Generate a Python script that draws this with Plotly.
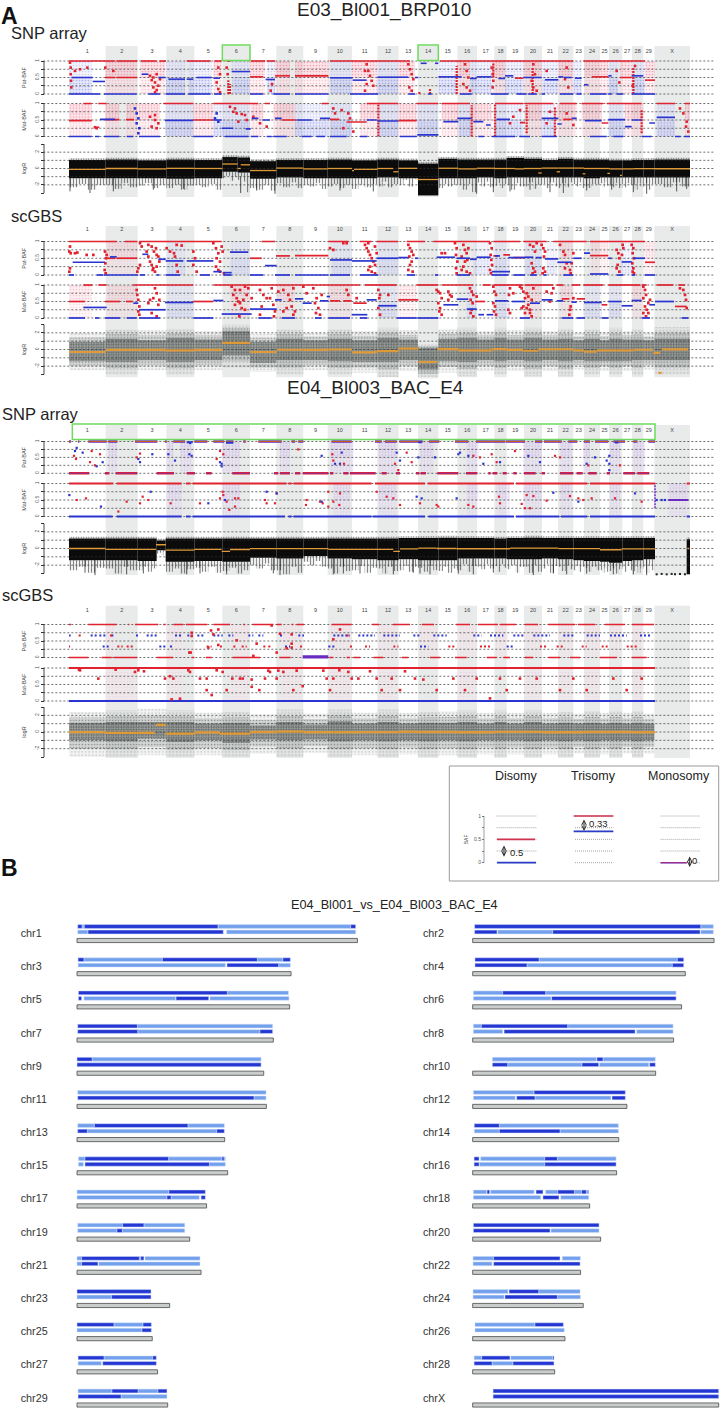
import plotly.graph_objects as go

# ---------- Panel A data: genome position axis ----------
CHROM_NAMES = [str(i) for i in range(1, 30)] + ["X"]
CHROM_EDGES = [207,317,413,499,583,667,750,829,910,983,1056,1132,1196,1254,1315,1372,1431,1483,1520,1572,1626,1674,1720,1752,1800,1827,1867,1896,1930,1963,2070]

# E03 SNP Pat-BAF
S1P_RED = [(207,345,1),(350,412,1),(423,470,1),(478,498,1),(560,632,1),(643,665,1),(680,692,1),(752,795,1),(800,825,1),(990,1230,1),(1320,1720,1),(1750,1935,1),(315,345,.5),(350,412,.5),(750,790,.52),(825,870,.55),(885,985,.55),(1545,1570,.48),(1775,1825,.52),(1860,1895,.5),(1935,1965,.42)]
S1P_BLUE = [(207,300,0),(312,410,0),(445,480,0),(497,555,0),(565,632,0),(642,665,0),(750,790,0),(820,870,0),(885,985,0),(1050,1135,0),(1225,1245,0),(1285,1295,0),(1380,1415,0),(1472,1525,0),(1550,1580,0),(1585,1610,0),(1625,1635,0),(1680,1720,0),(1730,1745,0),(1770,1820,0),(1825,1835,0),(1850,1870,0),(1895,1965,0),(1262,1280,.93),(1305,1315,.93),(215,278,.5),(278,315,.38),(425,445,.6),(475,497,.5),(505,555,.45),(560,580,.45),(590,635,.5),(640,660,.48),(695,750,.68),(797,825,.44),(990,1058,.49),(1058,1100,.42),(1132,1225,.51),(1245,1255,.5),(1315,1385,.52),(1410,1430,.47),(1430,1475,.52),(1495,1515,.47),(1515,1540,.55),(1570,1625,.5),(1635,1675,.43),(1675,1690,.52),(1692,1715,.5),(1725,1745,.48),(1752,1765,.28),(1825,1835,.55),(1895,1930,.55)]
S1P_TINT = [(207,275,"b"),(315,410,"r"),(420,495,"r"),(497,555,"b"),(565,635,"b"),(640,665,"r"),(697,750,"b"),(750,795,"r"),(800,825,"b"),(825,870,"r"),(885,985,"r"),(990,1056,"b"),(1056,1130,"r"),(1130,1195,"b"),(1195,1245,"r"),(1315,1370,"b"),(1370,1410,"r"),(1410,1475,"b"),(1475,1515,"r"),(1515,1570,"b"),(1570,1625,"r"),(1625,1675,"b"),(1675,1720,"r"),(1720,1745,"b"),(1752,1825,"r"),(1825,1855,"b"),(1860,1895,"r"),(1895,1935,"b"),(1935,1965,"r")]
S1P_DOT_X = [210,212,212,213,214,225,240,262,316,340,450,455,465,470,475,460,480,460,470,465,655,660,650,655,660,680,683,816,812,1100,1105,1110,1115,1120,1095,1100,1095,1225,1230,1235,1240,1228,1235,1395,1400,1405,1390,1400,1410,1475,1478,1480,1478,1600,1605,1595,1600,1610,1640,1700,1695,1705,1850,1858,1905,1898]
S1P_DOT_Y = [.95,.8,.6,.4,.2,.7,.75,.8,.8,.7,.55,.42,.35,.6,.25,.5,.45,.2,.12,.05,.8,.6,.35,.15,.05,.8,.6,.3,.1,.9,.7,.55,.4,.25,.7,.3,.1,.9,.75,.6,.45,.2,.1,.9,.7,.5,.3,.2,.1,.8,.6,.4,.2,.9,.6,.4,.2,.1,.7,.8,.45,.2,.7,.35,.85,.25]
S1P_COL = [(685,0,.42),(690,0,.3),(1370,0,.85),(1480,.5,.95),(1598,0,.8),(1900,0,.8),(1258,0,.08),(1290,0,.15)]

# E03 SNP Mat-BAF
S1M_RED = [(250,275,1),(295,320,1),(490,580,1),(640,775,1),(795,810,1),(965,985,1),(1100,1130,1),(1130,1195,1),(1250,1315,1),(1325,1410,1),(1485,1570,1),(1575,1660,1),(1680,1730,1),(1745,1810,1),(1820,1925,1),(1970,2025,1),(2055,2070,1),(207,275,.48),(315,358,.51),(378,402,.51),(580,640,.5),(845,888,.5),(990,1018,.52),(1040,1100,.44),(1195,1250,.48),(1690,1715,.52),(1805,1825,.41),(1560,1575,.42),(285,298,.28)]
S1M_BLUE = [(207,275,0),(285,298,0),(312,358,0),(380,400,0),(417,480,0),(580,640,0),(675,745,0),(752,775,0),(800,815,0),(820,860,0),(905,935,0),(950,975,0),(990,1040,0),(1080,1102,0),(1200,1250,0),(1252,1315,.05),(1435,1452,0),(1475,1495,0),(1495,1545,0),(1558,1590,0),(1625,1670,0),(1770,1820,0),(1840,1870,0),(1925,1955,0),(2025,2042,0),(2052,2070,0),(300,345,.52),(495,580,.49),(640,665,.5),(665,700,.25),(737,752,.23),(755,775,.55),(787,810,.5),(825,845,.55),(890,935,.5),(960,990,.55),(1100,1130,.5),(1132,1195,.47),(1330,1375,.45),(1372,1415,.55),(1420,1450,.45),(1458,1472,.35),(1490,1530,.52),(1625,1675,.55),(1672,1685,.38),(1715,1730,.55),(1755,1805,.48),(1825,1875,.51),(1875,1895,.3),(1895,1925,.5),(1948,1965,.41),(1970,2025,.58)]
S1M_TINT = [(207,275,"r"),(315,358,"r"),(378,412,"r"),(415,480,"r"),(495,580,"b"),(580,640,"r"),(640,750,"b"),(752,790,"r"),(820,885,"r"),(885,985,"b"),(990,1056,"b"),(1080,1130,"r"),(1132,1195,"b"),(1195,1250,"r"),(1250,1315,"b"),(1325,1375,"r"),(1375,1415,"b"),(1415,1475,"r"),(1485,1570,"b"),(1575,1625,"r"),(1625,1665,"b"),(1670,1730,"r"),(1745,1805,"r"),(1825,1875,"b"),(1875,1930,"r"),(1970,2025,"b"),(2055,2070,"r")]
S1M_DOT_X = [450,465,475,455,470,465,700,710,725,735,715,740,705,690,760,780,800,1025,1045,1050,1030,1060,1560,1540,1530,1650,1640,1700,1720,2040,2050,2060,2058,2065,285,290,1000,1005]
S1M_DOT_Y = [.6,.5,.4,.3,.25,.65,.75,.7,.68,.65,.45,.5,.85,.9,.6,.4,.3,.8,.7,.55,.25,.15,.8,.6,.4,.75,.4,.7,.35,.85,.7,.45,.3,.15,.28,.25,.85,.7]
S1M_DOT2_X = [405,410,415,410,418,415,650,645,655]
S1M_DOT2_Y = [.85,.7,.55,.4,.25,.1,.7,.55,.45]
S1M_COL = [(1135,0,1),(1415,0,.95),(1485,0,.98),(1580,.1,.95),(1665,0,.9),(1925,.1,.8)]

# E03 scGBS Pat-BAF
G1P_RED = [(207,350,1),(375,412,1),(418,665,1),(785,825,1),(985,1045,1),(1080,1115,1),(1130,1195,1),(1220,1275,1),(1300,1470,1),(1480,1560,1),(1570,1640,1),(1660,1760,1),(1770,1935,1),(315,345,.5),(350,412,.5),(750,785,.5),(828,870,.57),(885,985,.58),(1480,1495,.57),(1510,1530,.6),(1540,1575,.52),(1770,1825,.58),(1935,1965,.38)]
G1P_BLUE = [(207,222,0),(290,310,0),(312,415,0),(420,435,0),(470,478,0),(497,540,0),(600,630,0),(670,695,0),(750,790,0),(825,870,0),(885,985,0),(990,1050,0),(1080,1135,0),(1220,1245,0),(1305,1315,0),(1370,1410,0),(1475,1525,0),(1475,1530,.1),(1540,1575,0),(1590,1610,0),(1630,1640,0),(1690,1720,0),(1770,1825,.03),(1850,1870,0),(1895,1905,0),(1935,1965,0),(218,315,.38),(330,350,.54),(427,445,.62),(475,497,.47),(497,550,.42),(560,640,.42),(640,665,.1),(670,695,.07),(690,745,.68),(795,830,.28),(990,1056,.45),(1056,1130,.42),(1130,1195,.5),(1195,1225,.52),(1245,1255,.5),(1310,1365,.53),(1370,1410,.5),(1410,1430,.47),(1430,1472,.53),(1485,1500,.57),(1525,1575,.52),(1575,1600,.53),(1607,1625,.52),(1635,1675,.48),(1672,1715,.38),(1720,1745,.5),(1752,1770,.65),(1825,1835,.5),(1865,1895,.39),(1900,1935,.5)]
G1P_TINT = [(320,412,"r"),(500,555,"b"),(690,750,"b"),(995,1056,"b"),(1130,1195,"b"),(1420,1470,"b"),(1480,1530,"b"),(1575,1625,"b"),(1640,1670,"b"),(1680,1720,"r"),(1770,1825,"r"),(1860,1900,"b"),(1930,1965,"r")]
G1P_DOT_X = [210,208,212,225,232,260,280,210,208,315,318,316,314,317,320,420,425,415,420,412,440,445,450,455,460,465,470,462,475,468,455,445,478,470,458,500,510,522,530,545,525,530,533,580,585,580,590,640,648,655,650,660,648,655,665,668,660,672,990,1000,1030,1040,1095,1100,1105,1110,1115,1120,1125,1110,1105,1115,1125,1130,1105,1125,1225,1230,1235,1228,1235,1230,1225,1238,1240,1325,1335,1365,1370,1368,1372,1368,1370,1390,1395,1400,1405,1385,1395,1390,1385,1400,1410,1402,1470,1475,1472,1474,1476,1470,1473,1590,1600,1605,1595,1600,1605,1598,1610,1625,1630,1635,1632,1630,1635,1628,1680,1690,1695,1700,1695,1710,1715,1720,1712,1850,1855,1858,1853,1850,1858,1868,1870,1866,1895,1900,1898,1902,1897,1900,1898,1902]
G1P_DOT_Y = [.85,.7,.65,.65,.67,.6,.6,.2,.1,.7,.5,.35,.15,.05,.6,.95,.85,.2,.3,.1,.7,.55,.4,.3,.2,.1,.6,.7,.55,.8,.85,.9,.4,.25,.15,.8,.7,.65,.9,.88,.55,.3,.1,.7,.5,.3,.1,.95,.8,.65,.5,.4,.25,.15,.85,.7,.1,.05,.8,.75,.95,.95,.9,.8,.7,.6,.5,.4,.3,.25,.15,.1,.05,.65,.95,.85,.9,.8,.7,.55,.4,.3,.15,.1,.6,.65,.65,.95,.8,.6,.4,.2,.05,.9,.75,.65,.8,.55,.4,.25,.15,.1,.05,.45,.95,.8,.6,.45,.3,.15,.05,.9,.85,.7,.35,.2,.1,.05,.95,.9,.8,.7,.55,.2,.1,.05,.9,.7,.6,.35,.2,.15,.35,.65,.05,.75,.65,.5,.3,.2,.1,.9,.8,.6,.9,.8,.65,.5,.35,.2,.1,.05]

# E03 scGBS Mat-BAF
G1M_RED = [(250,277,1),(295,320,1),(398,580,1),(640,1080,1),(1095,1190,1),(1250,1315,1),(1325,1420,1),(1448,1472,1),(1480,1570,1),(1575,1660,1),(1670,1690,1),(1715,1740,1),(1750,1810,1),(1825,1920,1),(1925,1940,1),(1970,2020,1),(2035,2055,1),(207,255,.5),(315,360,.5),(378,398,.5),(580,640,.5),(990,1020,.52),(1030,1055,.52),(1060,1100,.45),(1195,1255,.55),(1425,1455,.5),(1685,1708,.58),(1730,1755,.58),(1805,1822,.4),(2025,2060,.35)]
G1M_BLUE = [(207,255,0),(285,298,0),(315,360,0),(380,410,0),(417,480,0),(580,640,0),(775,815,0),(845,885,0),(945,965,0),(985,1050,0),(1080,1102,0),(1190,1250,0),(1252,1315,0),(1435,1452,.1),(1460,1480,.1),(1560,1590,0),(1685,1720,0),(1730,1755,0),(1805,1825,0),(1925,1950,0),(2045,2065,0),(250,320,.32),(400,415,.45),(417,497,.25),(495,580,.47),(640,670,.53),(665,755,.12),(750,830,.27),(825,845,.55),(885,910,.58),(908,935,.45),(960,985,.52),(980,990,.65),(1055,1102,.1),(1100,1130,.55),(1135,1190,.37),(1330,1375,.4),(1370,1405,.57),(1400,1430,.27),(1485,1525,.52),(1535,1575,.5),(1590,1620,.45),(1625,1658,.55),(1670,1690,.52),(1715,1730,.48),(1752,1805,.47),(1825,1865,.5),(1865,1898,.37),(1895,1925,.53),(1948,1965,.4),(1965,2022,.5)]
G1M_TINT = [(207,275,"r"),(320,412,"r"),(500,580,"b"),(690,750,"r"),(830,885,"r"),(985,1056,"r"),(1135,1190,"b"),(1195,1250,"r"),(1400,1430,"b"),(1485,1530,"b"),(1575,1625,"r"),(1680,1720,"r"),(1750,1805,"b"),(1825,1865,"b"),(1895,1930,"r")]
G1M_DOT_X = [410,412,415,418,415,418,450,460,470,465,445,475,455,470,478,695,705,720,735,745,700,710,715,720,730,705,725,740,755,735,718,780,790,800,785,780,810,815,820,825,822,835,850,865,880,870,860,850,875,885,880,910,920,940,950,945,955,948,960,965,1040,1045,1070,1135,1140,1138,1135,1140,1165,1310,1315,1320,1325,1315,1320,1318,1325,1345,1350,1345,1355,1410,1415,1420,1412,1418,1415,1412,1420,1430,1480,1483,1488,1480,1485,1482,1488,1530,1527,1525,1530,1540,1560,1565,1570,1580,1585,1575,1570,1580,1590,1565,1585,1575,1590,1595,1600,1595,1640,1660,1655,1650,1712,1710,1708,1720,1930,1935,1938,1930,1945,1935,1940,1930,1938,1945,1950,2040,2050,2055,2058,2060]
G1M_DOT_Y = [.85,.7,.55,.35,.2,.1,.55,.6,.75,.9,.45,.4,.15,.05,.55,.95,.85,.85,.95,.9,.7,.6,.5,.45,.55,.4,.3,.7,.6,.25,.05,.85,.7,.6,.35,.1,.6,.9,.4,.2,.05,.8,.85,.7,.9,.55,.3,.2,.35,.2,.1,.95,.75,.9,.6,.45,.3,.15,.1,.7,.85,.7,.6,.85,.7,.6,.3,.1,.7,.85,.8,.75,.6,.45,.3,.2,.1,.8,.7,.55,.65,.9,.8,.7,.55,.45,.25,.15,.05,.65,.95,.8,.7,.45,.35,.2,.1,.9,.7,.25,.15,.75,.95,.9,.8,.75,.65,.6,.35,.3,.25,.3,.4,.15,.15,.05,.9,.55,.8,.9,.75,.5,.35,.25,.1,.6,.95,.85,.7,.6,.45,.35,.25,.15,.05,.15,.55,.9,.85,.7,.55,.3]

# E04 SNP Pat-BAF
S2P_TOP = [(207,213,1),(234,238,1),(265,320,1),(325,352,1),(405,472,1),(495,500,1),(520,555,1),(583,622,1),(640,672,1),(678,700,1),(730,737,1),(775,845,1),(875,885,1),(895,910,1),(995,1055,1),(1125,1145,1),(1155,1190,1),(1198,1268,1),(1287,1318,1),(1365,1405,1),(1428,1515,1),(1517,1575,1),(1605,1627,1),(1632,1685,1),(1705,1732,1),(1752,1770,1),(1785,1825,1),(1840,1875,1),(1900,1912,1),(1945,1965,1)]
S2P_BOT = [(207,268,0),(315,328,0),(347,412,0),(470,522,0),(560,585,0),(618,635,0),(697,750,0),(822,835,0),(840,870,0),(885,900,0),(908,985,0),(990,1000,0),(1030,1045,0),(1050,1127,0),(1145,1160,0),(1188,1200,0),(1248,1258,0),(1262,1278,0),(1312,1375,0),(1398,1432,0),(1465,1472,0),(1478,1492,0),(1508,1520,0),(1540,1550,0),(1572,1607,0),(1625,1635,0),(1680,1720,0),(1730,1748,0),(1765,1790,0),(1820,1830,0),(1870,1905,0),(1912,1948,0)]
S2P_BLUE_TOP = [(560,578,.98),(678,700,.96),(1255,1265,.98),(1845,1855,.97)]
S2P_TINT = [(325,352,"p"),(500,520,"p"),(540,575,"p"),(665,720,"p"),(840,870,"p"),(990,1060,"p"),(1135,1190,"p"),(1260,1300,"p"),(1400,1435,"p"),(1570,1625,"p"),(1680,1715,"p"),(1750,1770,"p"),(1830,1860,"p"),(1900,1935,"p")]
S2P_DOTB_X = [230,225,248,308,290,415,420,457,505,525,568,575,570,660,665,665,965,1025,1005,1020,1190,1200,1255,1305,1375,1380,1405,1450,1500,1585,1620,1760,1785,1820,1828,1828,1828]
S2P_DOTB_Y = [.8,.7,.65,.35,.22,.45,.35,.6,.6,.4,.6,.55,.95,.35,.3,.22,.55,.65,.3,.3,.65,.4,.5,.5,.6,.65,.55,.3,.35,.55,.35,.3,.5,.4,.55,.3,.1]
S2P_DOTR_X = [222,228,270,285,275,300,410,420,660,650,670,895,997,1000,1032,1185,1195,1220,1235,1420,1440,1475,1490,1545,1665,1680,1765,1860]
S2P_DOTR_Y = [.55,.45,.35,.25,.7,.6,.5,.62,.7,.45,.6,.75,.6,.4,.3,.3,.1,.65,.35,.55,.5,.6,.35,.7,.55,.5,.25,.25]

# E04 SNP Mat-BAF
S2M_RED = [(207,340,1),(350,545,1),(558,572,1),(578,860,1),(865,875,1),(880,1115,1),(1125,1275,1),(1283,1542,1),(1548,1762,1),(1770,1965,1),(2060,2070,1)]
S2M_BLUE = [(207,338,0),(350,545,0),(558,572,0),(578,855,0),(865,875,0),(880,1115,0),(1118,1275,0),(1285,1542,0),(1548,1678,0),(1683,1762,0),(1770,1965,0),(2060,2070,0)]
S2M_TINT = [(500,545,"p"),(665,720,"p"),(1000,1050,"p"),(1135,1190,"p"),(1400,1435,"p"),(1490,1530,"p"),(1570,1625,"p"),(1680,1715,"p"),(1830,1860,"p")]
S2M_DOTR_X = [230,258,355,380,428,445,420,512,600,660,668,670,680,705,715,688,705,795,800,830,825,920,918,960,968,985,985,1000,1020,1018,1130,1160,1180,1200,1260,1310,1315,1405,1420,1497,1500,1565,1575,1590,1580,1600,1640,1710,1735,1750,1775,1845,1925]
S2M_DOTR_Y = [.5,.55,.15,.45,.6,.5,.4,.4,.4,.55,.75,.65,.45,.55,.55,.2,.3,.5,.4,.7,.4,.5,.35,.45,.4,.75,.3,.45,.7,.35,.75,.6,.55,.35,.4,.35,.3,.35,.3,.6,.4,.38,.25,.25,.65,.62,.48,.62,.55,.5,.55,.55,.45]
S2M_DOTB_X = [208,303,452,625,675,800,965,830,1250,1265,1370,1660,1735,1905,1970,1985,1995]
S2M_DOTB_Y = [.65,.3,.75,.4,.5,.75,.45,.7,.6,.55,.55,.72,.45,.7,.5,.5,.5]
S2M_X_PURPLE = [(2005,2065,.5)]
S2M_X_TINT = [(2005,2065,"p")]
S2M_X_COL = [(1965,.25,1)]

# E04 scGBS Pat-BAF
G2P_RED = [(207,213,1),(265,350,1),(385,388,1),(405,475,1),(490,497,1),(520,550,1),(558,622,1),(640,690,1),(730,735,1),(757,820,1),(830,845,1),(875,880,1),(890,912,1),(995,1055,1),(1116,1137,1),(1179,1230,1),(1266,1302,1),(1368,1410,1),(1434,1494,1),(1500,1548,1),(1575,1614,1),(1644,1725,1),(1734,1785,1),(1815,1875,1),(1896,1962,1),(207,265,0),(305,335,0),(340,412,0),(470,520,0),(575,583,0),(618,635,0),(698,780,0),(838,872,0),(988,1000,0),(1040,1050,0),(1060,1080,0),(1120,1150,0),(1205,1225,0),(1290,1320,0),(1365,1400,0),(1460,1490,0),(1510,1530,0),(1575,1600,0),(1645,1680,0),(1710,1740,0),(1800,1850,0),(1895,1940,0)]
G2P_PURPLE = [(908,985,.02)]
G2P_B_DASH = [(207,212,.67),(272,290,.67),(298,318,.67),(334,340,.67),(408,420,.67),(440,473,.67),(525,548,.67),(562,578,.67),(592,610,.67),(640,668,.67),(685,700,.67),(745,760,.67),(775,790,.67),(840,850,.67),(895,912,.67),(1000,1050,.67),(1075,1125,.67),(1150,1200,.67),(1240,1260,.67),(1300,1340,.67),(1420,1445,.67),(1470,1510,.67),(1540,1570,.67),(1600,1650,.67),(1690,1720,.67),(1760,1800,.67),(1830,1880,.67),(1920,1950,.67),(308,330,.33),(478,497,.33),(510,520,.33),(985,1005,.33),(855,870,.33),(1260,1285,.33),(1520,1540,.33)]
G2P_R_DASH = [(207,210,.33),(352,368,.33),(380,400,.33),(620,635,.33),(660,668,.33),(700,712,.33),(725,740,.33),(790,796,.33),(805,815,.33),(900,908,.33),(1050,1060,.33),(1095,1110,.33),(1180,1195,.33),(1345,1365,.33),(1440,1470,.33),(1620,1640,.33),(1670,1690,.33),(1745,1760,.33),(1805,1825,.33),(1880,1910,.33),(236,242,.67),(330,340,.67),(1040,1050,.67)]
G2P_TINT = [(315,345,"n"),(500,550,"n"),(690,745,"n"),(845,905,"n"),(990,1055,"n"),(1135,1190,"n"),(1260,1310,"n"),(1372,1430,"n"),(1485,1525,"n"),(1575,1625,"n"),(1675,1720,"n"),(1752,1800,"n"),(1830,1865,"n"),(1896,1930,"n")]
G2P_DOT_X = [633,655,640,575,575,625,655,815,840,875,875,875,860,830,1000,1020,568,572,760,770,710]
G2P_DOT_Y = [.82,.85,.7,.75,.65,.3,.38,.97,.72,.7,.42,.3,.28,.15,.55,.85,.15,.15,.05,.42,.52]

# E04 scGBS Mat-BAF
G2M_RED = [(207,1965,1)]
G2M_BLUE = [(207,1965,0)]
G2M_TINT = [(315,412,"n"),(500,550,"n"),(690,745,"n"),(845,905,"n"),(990,1055,"n"),(1135,1190,"n"),(1372,1430,"n"),(1575,1625,"n"),(1675,1720,"n"),(1752,1800,"n"),(1896,1930,"n")]
G2M_DOT_X = [237,240,295,347,405,415,432,495,510,520,515,540,565,570,600,620,620,635,650,668,697,680,720,728,755,755,778,795,805,810,830,835,850,880,890,908,970,980,990,1000,1018,1045,1055,1075,1110,1130,1145,1175,1200,1215,1245,1270,1310,1360,1395,1430,1470,1500,1520,1560,1610,1680,1720,1760,1840,1880,1925]
G2M_DOT_Y = [.95,.93,.68,.95,.88,.93,.9,.68,.75,.68,.05,.07,.93,.88,.68,.68,.33,.18,.93,.88,.68,.33,.68,.68,.65,.43,.33,.68,.92,.88,.68,.92,.88,.33,.92,.45,.92,.68,.33,.68,.93,.88,.68,.68,.9,.68,.33,.68,.33,.9,.68,.65,.33,.68,.33,.68,.08,.68,.33,.68,.68,.33,.68,.33,.68,.33,.68]

# logR: (start, end, top, core bottom, four lower tips)
S1L_BAND = [(207,317,1.05,-1.2,-2.3,-1.9,-2.6,-2.0),(317,413,1.1,-1.2,-2.0,-2.5,-1.8,-2.3),(413,499,1.0,-1.2,-2.1,-1.8,-2.4,-2.0),(499,583,1.1,-1.25,-2.4,-2.0,-2.6,-2.1),(583,667,1.05,-1.2,-2.0,-2.3,-1.9,-2.6),(667,713,1.4,-.4,-1.2,-.9,-1.5,-1.0),(713,750,1.35,-.5,-1.4,-1.0,-1.6,-2.9),(750,829,.9,-1.25,-2.4,-2.6,-2.0,-2.7),(829,910,1.05,-1.1,-1.8,-2.3,-1.7,-2.4),(910,983,1.05,-1.2,-2.0,-2.2,-1.8,-2.5),(983,1056,1.1,-1.2,-2.2,-1.9,-2.4,-2.0),(1056,1132,1.0,-1.2,-2.5,-2.0,-2.3,-1.9),(1132,1196,1.1,-1.1,-2.2,-1.6,-2.3,-1.9),(1196,1254,1.0,-1.2,-2.0,-1.4,-2.2,-1.3),(1254,1315,.6,-3.3,-3.3,-3.3,-3.3,-3.3),(1315,1372,1.2,-1.2,-2.4,-1.9,-2.2,-2.0),(1372,1431,1.1,-1.2,-2.0,-2.6,-1.9,-2.9),(1431,1483,1.1,-1.1,-1.7,-2.2,-1.6,-2.3),(1483,1520,1.1,-1.2,-2.1,-1.8,-2.4,-1.9),(1520,1572,1.3,-1.1,-2.0,-2.6,-1.8,-2.2),(1572,1626,1.2,-1.1,-2.2,-1.7,-2.5,-2.0),(1626,1674,1.05,-1.1,-1.9,-2.4,-1.7,-2.2),(1674,1720,1.2,-1.1,-2.4,-1.8,-2.3,-1.7),(1720,1752,1.1,-1.1,-1.9,-2.2,-1.7,-2.4),(1752,1800,1.1,-1.2,-2.2,-2.4,-1.9,-2.0),(1800,1827,1.1,-1.1,-1.8,-2.3,-1.7,-2.1),(1827,1867,1.0,-1.1,-2.1,-2.3,-1.8,-2.4),(1867,1896,1.0,-1.1,-1.9,-2.3,-1.8,-2.0),(1896,1930,1.05,-1.1,-2.0,-2.6,-1.8,-2.2),(1930,1963,1.05,-1.1,-2.2,-1.8,-2.6,-1.9),(1963,2070,1.1,-1.1,-1.9,-2.3,-1.7,-2.2)]
S1L_SPIKE_X = [270,210,340,460,550,722,770,825,1020,1120,1290,1430,1480,1530,1590,1650,1690,1760,1835,1900,1940,2030,2060]
S1L_SPIKE_Y = [-3.0,-2.8,-2.8,-2.6,-2.5,-3.0,-2.7,-3.1,-2.7,-2.8,-3.2,-3.1,-2.9,-2.8,-2.6,-2.9,-3.0,-2.7,-2.6,-2.9,-3.1,-2.8,-2.5]
S1L_MED = [(207,317,-.1),(317,413,0),(413,499,-.05),(499,583,.02),(583,667,0),(667,713,.55),(722,750,.45),(750,829,-.25),(829,910,.05),(910,983,-.05),(983,1056,0),(1056,1062,-.25),(1062,1132,-.1),(1132,1180,0),(1180,1195,-.4),(1195,1252,.02),(1252,1315,-1.35),(1315,1375,.03),(1375,1430,-.05),(1430,1485,.03),(1485,1545,0),(1545,1572,-.05),(1572,1625,0),(1625,1675,.05),(1675,1752,.05),(1752,1800,0),(1800,1827,0),(1827,1900,-.05),(1900,1965,-.02),(1965,2070,-.03),(1615,1625,-.55),(1670,1680,-.4),(1748,1756,-.65),(1822,1830,-.6),(1860,1866,-.85),(713,722,0)]

S2L_BAND = [(207,317,1.2,-1.4,-2.6,-2.2,-2.9,-2.3),(317,413,1.2,-1.4,-2.4,-3.0,-2.2,-2.6),(413,470,1.2,-1.5,-2.6,-2.2,-2.8,-2.4),(470,497,.95,-.2,-.6,-.5,-.8,-.4),(497,583,1.2,-1.6,-2.8,-2.4,-3.0,-2.5),(583,667,1.2,-1.5,-2.3,-2.8,-2.2,-2.9),(667,750,1.2,-1.6,-2.7,-2.3,-3.0,-2.6),(750,829,1.2,-1.1,-2.0,-2.4,-1.8,-2.6),(829,910,1.2,-1.2,-2.6,-3.1,-2.2,-2.9),(910,983,1.2,-.9,-1.6,-2.0,-1.5,-2.2),(983,1056,1.2,-1.2,-2.4,-3.0,-2.2,-2.7),(1056,1132,1.2,-1.3,-2.6,-2.1,-2.9,-2.3),(1132,1196,1.2,-1.4,-2.4,-3.0,-2.2,-2.7),(1196,1254,1.25,-1.3,-2.6,-2.1,-2.8,-2.2),(1254,1315,1.25,-1.4,-2.3,-2.8,-2.1,-2.6),(1315,1372,1.3,-1.4,-2.7,-2.2,-2.9,-2.4),(1372,1431,1.25,-1.2,-2.6,-1.9,-2.8,-2.1),(1431,1483,1.25,-1.2,-2.2,-2.5,-1.9,-2.4),(1483,1520,1.2,-1.2,-2.1,-2.8,-1.9,-2.3),(1520,1572,1.25,-1.3,-2.5,-2.0,-2.9,-2.2),(1572,1626,1.3,-1.3,-2.2,-2.9,-2.0,-2.8),(1626,1674,1.25,-1.2,-2.4,-1.9,-2.9,-2.1),(1674,1720,1.25,-1.3,-2.2,-2.7,-2.0,-2.5),(1720,1752,1.25,-1.4,-2.6,-2.1,-2.8,-2.2),(1752,1800,1.25,-1.5,-2.3,-2.8,-2.2,-2.6),(1800,1827,1.25,-1.6,-2.6,-2.9,-2.4,-2.8),(1827,1867,1.25,-1.7,-2.7,-2.4,-3.0,-2.5),(1867,1896,1.25,-1.5,-2.2,-2.8,-2.1,-2.6),(1896,1930,1.25,-1.4,-2.7,-2.2,-2.9,-2.4),(1930,1965,1.25,-1.3,-2.2,-2.9,-2.1,-2.6),(2060,2070,1.1,-3.1,-3.1,-3.1,-3.1,-3.1)]
S2L_SPIKE_X = [285,255,380,430,560,600,680,840,820,1000,1030,1080,1180,1240,1260,1290,1375,1420,1480,1600,1660,1700,1760,1840,1900,1940]
S2L_SPIKE_Y = [-3.2,-2.9,-3.1,-3.0,-3.1,-3.0,-3.1,-3.2,-3.0,-3.1,-3.0,-3.0,-3.1,-2.9,-3.0,-3.1,-3.0,-3.1,-2.9,-3.2,-3.0,-3.1,-3.0,-3.1,-3.1,-3.2]
S2L_FLOOR_X = [1970,1985,2000,2015,2025,2040,2055]
S2L_FLOOR_Y = [-3.1,-3.05,-3.1,-3.05,-3.1,-3.05,-3.1]
S2L_MED = [(207,317,0),(317,413,-.1),(413,468,-.1),(468,498,.45),(498,583,-.2),(583,665,-.1),(665,690,-.35),(690,750,-.12),(750,830,-.02),(830,910,-.02),(910,985,-.02),(985,1056,-.1),(1056,1180,-.1),(1180,1200,-.35),(1200,1255,-.05),(1255,1310,.05),(1310,1370,0),(1370,1530,-.03),(1530,1675,.05),(1675,1800,-.02),(1800,1865,-.15),(1865,1965,-.05),(2062,2068,0)]

G1L_OUT_TOP = [2.0,2.4,2.3,2.5,2.2,3.0,1.9,2.4,2.0,2.4,2.2,2.6,2.3,.6,2.5,2.6,2.2,2.6,2.3,2.6,2.2,2.5,2.0,2.4,2.1,2.6,2.2,2.4,2.0,2.7]
G1L_OUT_BOT = [-2.5,-3.0,-2.5,-3.0,-2.5,-2.2,-2.7,-3.0,-2.5,-3.0,-2.8,-3.3,-2.6,-3.5,-2.8,-3.2,-2.6,-3.0,-2.6,-3.2,-2.6,-3.2,-2.4,-3.0,-2.6,-3.0,-2.6,-3.1,-2.4,-3.0]
G1L_IN_TOP = [.9,1.3,1.1,1.4,1.2,2.2,.9,1.3,1.1,1.3,1.1,1.4,1.2,.2,1.3,1.4,1.2,1.4,1.2,1.4,1.2,1.3,1.1,1.3,1.1,1.3,1.2,1.2,1.1,1.3]
G1L_IN_BOT = [-1.4,-1.5,-1.3,-1.5,-1.3,-.7,-1.6,-1.3,-1.3,-1.4,-1.5,-1.5,-1.3,-2.4,-1.4,-1.5,-1.3,-1.4,-1.3,-1.4,-1.3,-1.4,-1.3,-1.4,-1.4,-1.4,-1.4,-1.3,-1.3,-1.3]
G1L_MED = [(207,317,-.3),(317,413,-.05),(413,497,-.05),(497,583,-.1),(583,667,-.05),(667,750,.8),(750,830,-.3),(830,910,-.03),(910,985,-.05),(985,1056,0),(1056,1130,-.35),(1130,1195,-.2),(1195,1255,.1),(1255,1312,-1.5),(1312,1375,.05),(1375,1475,-.1),(1475,1520,.05),(1520,1570,-.05),(1570,1615,-.15),(1615,1720,.03),(1720,1752,-.1),(1752,1790,-.25),(1790,1850,-.1),(1850,1900,-.1),(1900,1960,-.03),(1960,1980,-.4),(1985,2065,.02),(1975,1985,-2.8)]

G2L_OUT_TOP = [2.4,2.6,2.8,2.6,2.3,2.4,2.1,2.7,2.2,2.7,2.3,2.7,2.3,2.4,2.5,2.6,2.3,2.6,2.3,2.6,2.3,2.4,2.2,2.5,2.3,2.5,2.3,2.5,2.2,0]
G2L_OUT_BOT = [-3.0,-3.0,-2.8,-3.0,-2.8,-3.0,-2.6,-3.0,-2.5,-3.0,-2.8,-3.0,-2.7,-3.0,-2.8,-3.0,-2.7,-3.0,-2.7,-3.0,-2.7,-3.0,-2.6,-3.0,-2.7,-3.0,-2.6,-3.0,-2.6,0]
G2L_IN_TOP = [1.1,1.2,1.2,1.2,1.0,1.1,.8,1.2,.9,1.3,1.0,1.2,1.0,1.1,1.1,1.2,1.0,1.2,1.0,1.2,1.0,1.1,1.0,1.1,1.0,1.1,1.0,1.1,1.0,0]
G2L_IN_BOT = [-1.0,-1.1,-.8,-1.2,-1.0,-1.3,-.9,-1.0,-.9,-1.1,-1.0,-1.1,-1.0,-1.1,-1.0,-1.1,-1.0,-1.0,-1.0,-1.1,-1.0,-1.1,-1.0,-1.1,-1.0,-1.0,-1.0,-1.1,-1.0,0]
G2L_MED = [(207,317,-.02),(317,413,-.1),(413,465,-.1),(468,497,.85),(497,583,-.2),(583,660,-.05),(660,750,-.2),(750,830,0),(830,910,.05),(910,1000,-.02),(1000,1080,-.03),(1080,1196,-.02),(1196,1254,.03),(1254,1372,0),(1372,1483,-.03),(1483,1626,.02),(1626,1752,-.03),(1752,1896,.0),(1896,1965,-.03)]

# Legend panel
LEG_RED = [(1491,1605,.5),(1721,1840,1)]
LEG_BLUE = [(1491,1608,0),(1721,1840,.67)]
LEG_PURPLE = [(1982,2060,0)]
LEG_SPANS = [(1490,1611),(1725,1840),(1982,2102)]
BAF_TICKS = [0,.25,.5,.75,1]
BAF_LABELS = ["0","","0.5","","1"]
LOG_TICKS = [-3,-2,-1,0,1,2,3]
LOG_LABELS = ["","-2","","0","","2",""]

# ---------- Panel B data: (start Mb, end Mb, dark?) per haplotype ----------
LEFT_ROWS = ["chr1","chr3","chr5","chr7","chr9","chr11","chr13","chr15","chr17","chr19","chr21","chr23","chr25","chr27","chr29"]
LEFT_LEN = [158,120.6,119.8,110.6,105.2,106.7,83.2,84.9,73,63.5,69.9,52.2,42.4,45.4,51.1]
RIGHT_ROWS = ["chr2","chr4","chr6","chr8","chr10","chr12","chr14","chr16","chr18","chr20","chr22","chr24","chr26","chr28","chrX"]
RIGHT_LEN = [136,119.8,117.7,113.2,103.1,86.9,82.3,81.1,65.9,72.1,60.8,62.3,52,46.2,138.6]
HAP1 = {
"chr1":[(.4,2.8,1),(2.8,3.9,0),(4.1,79.4,1),(79.4,154.2,0),(154.2,157,1)],
"chr3":[(.6,3.9,1),(3.9,48.1,0),(48.1,101.6,1),(101.6,116,0),(116,120.2,1)],
"chr5":[(.8,84.7,1),(84.7,119.1,0)],
"chr7":[(.4,34,1),(34,110.2,0)],
"chr9":[(0,8.5,1),(8.5,103.7,0)],
"chr11":[(.4,106.5,0)],
"chr13":[(.4,9.8,0),(9.8,62.5,1),(62.5,83,0)],
"chr15":[(.8,4.5,0),(4.5,51.6,1),(51.6,81.7,0),(81.7,82.8,1),(82.8,83.6,0)],
"chr17":[(0,51.8,0),(51.8,72.3,1)],
"chr19":[(.4,25.7,0),(25.7,37.7,1),(37.7,60.7,0)],
"chr21":[(0,2.6,0),(2.6,35.1,1),(35.1,35.9,0),(35.9,37.7,1),(38.3,69.3,0)],
"chr23":[(0,41.7,1)],
"chr25":[(0,20.8,1),(20.8,37.2,0),(37.2,41.9,1)],
"chr27":[(.6,15.2,1),(15.2,42.6,0),(42.6,44.7,1)],
"chr29":[(.6,19.7,0),(19.7,34.4,1),(34.4,45.6,0),(45.6,50.7,1)],
"chr2":[(1.1,128.5,1),(128.5,135.6,0)],
"chr4":[(1.3,37.4,1),(37.4,115.3,0),(115.3,118.9,1)],
"chr6":[(.4,16.9,0),(16.9,41.1,1),(41.1,114.6,0)],
"chr8":[(.4,4.9,0),(4.9,53.5,1),(53.5,112.9,0)],
"chr10":[(11.1,69.7,0),(70,73.4,1),(73.4,102.9,0)],
"chr12":[(.4,34.6,0),(34.6,86,1)],
"chr14":[(.9,15,1),(15,82.1,0)],
"chr16":[(.8,3.6,1),(4.5,40.6,0),(40.6,47.7,1),(47.7,80.8,0)],
"chr18":[(.4,7.9,0),(8.1,9.6,1),(10.1,34.6,0),(35.7,39.6,1),(41.1,47.9,0),(47.9,57.3,1),(57.3,61.4,0),(61.4,64,1),(64,65.5,0)],
"chr20":[(.4,71.2,1)],
"chr22":[(.2,11.8,0),(11.8,49.2,1),(50.5,60.7,0)],
"chr24":[(.2,19.9,0),(20.5,37.2,1),(37.2,60.5,0)],
"chr26":[(1.3,35.1,0),(35.1,51.1,1)],
"chr28":[(.8,5.1,0),(5.1,21,1),(21.4,45.1,0),(45.1,45.8,1)],
"chrX":[(11.5,138.6,1)],
}
HAP2 = {
"chr1":[(.4,6.2,0),(6.2,82.4,1),(84.3,157,0)],
"chr3":[(.6,83.6,0),(84.5,113.6,1),(113.6,120.2,0)],
"chr5":[(.8,2.6,1),(3.9,55.6,0),(55.8,74.2,1),(74.9,119.4,0)],
"chr7":[(.4,34.2,1),(34.2,103.1,0),(103.1,110.2,1)],
"chr9":[(0,103.7,1)],
"chr11":[(.4,99.7,1),(99.7,106.5,0)],
"chr13":[(.4,5.8,1),(5.8,78.7,0),(78.7,83,1)],
"chr15":[(.8,3.6,0),(4.5,74.6,1),(74.6,83.6,0)],
"chr17":[(0,50.7,0),(50.7,53,1),(53,68.9,0),(69.9,72.3,1)],
"chr19":[(.4,22.5,0),(22.5,25.5,1),(25.5,60.7,0)],
"chr21":[(0,2.6,0),(2.6,11.8,1),(12.2,69.3,0)],
"chr23":[(0,19.5,0),(19.5,41.7,1)],
"chr25":[(0,36.6,0),(36.6,41.9,1)],
"chr27":[(.6,13.7,0),(14.5,44.7,1)],
"chr29":[(.6,24.8,1),(24.8,50.7,0)],
"chr2":[(1.1,13.7,1),(14.1,45.1,0),(45.1,128.1,1),(128.5,135.6,0)],
"chr4":[(1.3,30.6,1),(30.6,112.5,0),(112.5,118.9,1)],
"chr6":[(.4,44.1,0),(44.5,114.6,1)],
"chr8":[(.4,16.9,0),(17.7,91.5,1),(92.4,112.9,0)],
"chr10":[(11.1,19.7,1),(19.7,61.6,0),(61.6,71,1),(71.4,99.2,0),(99.7,102.9,1)],
"chr12":[(.4,24,0),(24.8,35.1,1),(35.1,77.9,0),(78.5,86,1)],
"chr14":[(.9,15,0),(15,49.2,1),(49.2,82.1,0)],
"chr16":[(.8,3.6,1),(3.8,40.6,0),(40.6,80.8,1)],
"chr18":[(.4,38.3,0),(39.6,48.6,1),(49.6,65.4,0)],
"chr20":[(.4,43.6,1),(44.1,71.2,0)],
"chr22":[(.2,10.9,0),(11.8,60.5,1)],
"chr24":[(.2,17.7,0),(18.2,47.7,1),(47.7,60.7,0)],
"chr26":[(1.3,51.6,0)],
"chr28":[(.8,10.9,1),(10.9,22.7,0),(22.7,45.8,1)],
"chrX":[(11.5,138.6,1)],
}

# ---------- Styling / layout ----------
W, H = 721, 1410
FONT = "Liberation Sans"
RED, BLUE, PURPLE, ORANGE = "#e0232f", "#2a35d0", "#6a2cc0", "#de9a38"
LIGHT_BAR, DARK_BAR = "#73a0ec", "#2437d2"
TXT = "#222222"
BAF_PAD, LOG_PAD = 3, 6   # room beyond the axis ends so thick lines are not cut

def ydom(top, bottom):
    return [1 - bottom / H, 1 - top / H]

fig = go.Figure()
layout_axes = {}
annots, shapes = [], []

def txt(x, y, text, size, anchor="left", bold=False, color=TXT):
    if anchor == "left":
        x -= 2.5
    annots.append(dict(xref="paper", yref="paper", x=x / W, y=1 - (y - .5) / H, text=f"<b>{text}</b>" if bold else text,
                       showarrow=False, xanchor=anchor, yanchor="middle",
                       font=dict(family=FONT, size=size, color=color)))

def segs(rows, ax, color, width, dash=None, opacity=1.0):
    xs, ys = [], []
    for a, b, v in rows:
        xs += [a, b, None]
        ys += [v, v, None]
    fig.add_trace(go.Scatter(x=xs, y=ys, yaxis=ax, mode="lines", opacity=opacity,
                             line=dict(color=color, width=width, dash=dash), hoverinfo="skip"))

def dots(xs, ys, ax, color, size=2.6, symbol="square"):
    fig.add_trace(go.Scatter(x=xs, y=ys, yaxis=ax, mode="markers", cliponaxis=False, hoverinfo="skip",
                             marker=dict(color=color, size=size, symbol=symbol, line=dict(width=0))))

TINT_STYLE = {
    "r": (("rgba(245,170,185,.30)", "#ec6880"), ("rgba(250,205,214,.25)", "#f4a0b0")),
    "b": (("rgba(215,218,250,.30)", "#aab0f0"), ("rgba(175,182,242,.32)", "#7a84e6")),
    "p": (("rgba(215,190,240,.28)", "#b48be0"), ("rgba(225,205,245,.20)", "#c9a8ea")),
    "n": (("rgba(248,225,232,.28)", "#f2c2d0"), ("rgba(248,230,236,.20)", "#f2ccd8")),
}

def tints(rows, ax, strength=1.0):
    for code in sorted(set(r[2] for r in rows)):
        sel = [r for r in rows if r[2] == code]
        x = [(a + b) / 2 for a, b, _ in sel]
        w = [b - a for a, b, _ in sel]
        up, lo = TINT_STYLE[code]
        for (col, fg), base, h in ((up, .5, .5), (lo, 0, .5)):
            fig.add_trace(go.Bar(x=x, width=w, y=[h] * len(x), base=[base] * len(x), yaxis=ax, hoverinfo="skip",
                                 opacity=strength, marker=dict(color=col, line=dict(width=0),
                                 pattern=dict(shape=".", size=3, solidity=.25, fgcolor=fg, bgcolor=col))))

def columns(rows, ax, color=RED, width=2.2):
    xs, ys = [], []
    for x, a, b in rows:
        xs += [x, x, None]
        ys += [a, b, None]
    fig.add_trace(go.Scatter(x=xs, y=ys, yaxis=ax, mode="lines", line=dict(color=color, width=width, dash="2px,1px"), hoverinfo="skip"))

def guides(ax, levels):
    xs, ys = [], []
    for v in levels:
        xs += [130, 2140, None]
        ys += [v, v, None]
    fig.add_trace(go.Scatter(x=xs, y=ys, yaxis=ax, mode="lines", line=dict(color="#333", width=.7, dash="2px,2px"), hoverinfo="skip"))
    lo, hi = (-3, 3) if min(levels) < 0 else (0, 1)
    fig.add_trace(go.Scatter(x=[132, 132], y=[lo, hi], yaxis=ax, mode="lines", line=dict(color="#333", width=.9), hoverinfo="skip"))

def band(rows, ax):
    mid = [(r[0] + r[1]) / 2 for r in rows]
    wid = [r[1] - r[0] for r in rows]
    top = [r[2] for r in rows]
    core = [r[3] for r in rows]
    # lower hairs: each segment splits into four runs, each down to its own tip
    hx, hw, hbase, hlen = [], [], [], []
    for r in rows:
        step = (r[1] - r[0]) / 4
        for i, tip in enumerate(r[4:]):
            hx.append(r[0] + step * (i + .5))
            hw.append(step)
            hbase.append(tip)
            hlen.append(r[3] - tip)
    fig.add_trace(go.Bar(x=hx, width=hw, base=hbase, y=hlen, yaxis=ax, hoverinfo="skip",
                         marker=dict(color="rgba(0,0,0,0)", line=dict(width=0),
                                     pattern=dict(shape="|", size=3, solidity=.42, fgcolor="#0b0b0b", bgcolor="rgba(0,0,0,0)"))))
    fig.add_trace(go.Bar(x=mid, width=wid, base=top, y=[.22] * len(top), yaxis=ax, hoverinfo="skip",
                         marker=dict(color="rgba(0,0,0,0)", line=dict(width=0),
                                     pattern=dict(shape="|", size=2.5, solidity=.5, fgcolor="#0b0b0b", bgcolor="rgba(0,0,0,0)"))))
    fig.add_trace(go.Bar(x=mid, width=wid, base=core, y=[t - c for t, c in zip(top, core)], yaxis=ax, hoverinfo="skip",
                         marker=dict(color="#0b0b0b", line=dict(width=0))))

def spikes(xs_, ys_, ax):
    xs, ys = [], []
    for x, y in zip(xs_, ys_):
        xs += [x, x, None]
        ys += [-1, y, None]
    fig.add_trace(go.Scatter(x=xs, y=ys, yaxis=ax, mode="lines", line=dict(color="#111", width=.7), hoverinfo="skip"))

def cloud(o_top, o_bot, i_top, i_bot, ax):
    mids = [(CHROM_EDGES[i] + CHROM_EDGES[i + 1]) / 2 for i in range(len(CHROM_NAMES))]
    wid = [CHROM_EDGES[i + 1] - CHROM_EDGES[i] for i in range(len(CHROM_NAMES))]
    m_top = [(a + b) / 2 for a, b in zip(o_top, i_top)]
    m_bot = [(a + b) / 2 for a, b in zip(o_bot, i_bot)]
    for top, bot, fg, bg, sol, sz in ((o_top, o_bot, "#9aa09d", "rgba(185,190,187,.20)", .16, 3.5),
                                      (m_top, m_bot, "#616966", "rgba(135,141,138,.28)", .2, 3),
                                      (i_top, i_bot, "#262e2b", "rgba(85,92,88,.42)", .3, 2.5)):
        fig.add_trace(go.Bar(x=mids, width=wid, base=bot, y=[t - b for t, b in zip(top, bot)], yaxis=ax, hoverinfo="skip",
                             marker=dict(color=bg, line=dict(width=0),
                                         pattern=dict(shape=".", size=sz, solidity=sol, fgcolor=fg, bgcolor=bg))))

def baf_axis(top, bottom, title):
    h = bottom - top
    return dict(domain=ydom(top - BAF_PAD, bottom + BAF_PAD), range=[-BAF_PAD / h, 1 + BAF_PAD / h], anchor="free", position=44 / W, showline=False,
                ticks="outside", ticklen=3, tickwidth=.6, tickcolor="#333", tickvals=BAF_TICKS, ticktext=BAF_LABELS, tickangle=-90,
                tickfont=dict(size=5, color="#555", family=FONT), showgrid=False, zeroline=False,
                title=dict(text=title, font=dict(size=5.5, color="#444", family=FONT), standoff=6))

def log_axis(top, bottom):
    h = bottom - top
    e = 3 + LOG_PAD * 6 / h
    return dict(domain=ydom(top - LOG_PAD, bottom + LOG_PAD), range=[-e, e], anchor="free", position=44 / W, showline=False,
                ticks="outside", ticklen=3, tickwidth=.6, tickcolor="#333", tickvals=LOG_TICKS, ticktext=LOG_LABELS, tickangle=-90,
                tickfont=dict(size=5, color="#555", family=FONT), showgrid=False, zeroline=False,
                title=dict(text="logR", font=dict(size=5.5, color="#444", family=FONT), standoff=6))

# Background blocks: shaded chromosomes and their names
BLOCKS = [("y", 46, 197, 51.5), ("y2", 226, 377.5, 230), ("y3", 425, 575, 430.5), ("y4", 605.5, 758, 611)]
for i, (ax, top, bottom, lab) in enumerate(BLOCKS):
    mids = [(CHROM_EDGES[k] + CHROM_EDGES[k + 1]) / 2 for k in range(len(CHROM_NAMES))]
    wid = [CHROM_EDGES[k + 1] - CHROM_EDGES[k] for k in range(len(CHROM_NAMES))]
    idx = [k for k in range(len(CHROM_NAMES)) if k % 2 == 1 or CHROM_NAMES[k] == "X"]
    fig.add_trace(go.Bar(x=[mids[k] for k in idx], width=[wid[k] for k in idx], y=[1] * len(idx), yaxis=ax, hoverinfo="skip",
                         marker=dict(color="#e9ebeb", line=dict(width=0))))
    frac = (bottom - lab) / (bottom - top)
    fig.add_trace(go.Scatter(x=mids, y=[frac] * len(mids), yaxis=ax, mode="text", text=CHROM_NAMES, hoverinfo="skip",
                             textfont=dict(size=5.5, color="#444", family=FONT)))
    layout_axes["yaxis" if i == 0 else f"yaxis{i + 1}"] = dict(domain=ydom(top, bottom), range=[0, 1], visible=False, fixedrange=True)

AX = {k: f"y{n}" for k, n in zip(["S1P","S1M","S1L","G1P","G1M","G1L","S2P","S2M","S2L","G2P","G2M","G2L","LEG"], range(5, 18))}
layout_axes["yaxis5"] = baf_axis(61, 94, "Pat-BAF")
layout_axes["yaxis6"] = baf_axis(103.5, 136.5, "Mat-BAF")
layout_axes["yaxis7"] = log_axis(144, 193)
layout_axes["yaxis8"] = baf_axis(241.5, 275, "Pat-BAF")
layout_axes["yaxis9"] = baf_axis(285, 318, "Mat-BAF")
layout_axes["yaxis10"] = log_axis(324.5, 374.5)
layout_axes["yaxis11"] = baf_axis(441.5, 473.3, "Pat-BAF")
layout_axes["yaxis12"] = baf_axis(483.5, 516.5, "Mat-BAF")
layout_axes["yaxis13"] = log_axis(523.5, 573.5)
layout_axes["yaxis14"] = baf_axis(624.5, 657.5, "Pat-BAF")
layout_axes["yaxis15"] = baf_axis(668, 701, "Mat-BAF")
layout_axes["yaxis16"] = log_axis(707, 757)

LOG_GUIDES = [-2, -1, 0, 1, 2]
# E03 SNP
a = AX["S1P"]; tints(S1P_TINT, a); guides(a, BAF_TICKS); columns(S1P_COL, a); dots(S1P_DOT_X, S1P_DOT_Y, a, RED); segs(S1P_RED, a, RED, 1.6); segs(S1P_BLUE, a, BLUE, 1.6)
a = AX["S1M"]; tints(S1M_TINT, a); guides(a, BAF_TICKS); columns(S1M_COL, a); dots(S1M_DOT_X, S1M_DOT_Y, a, RED); dots(S1M_DOT2_X, S1M_DOT2_Y, a, BLUE); segs(S1M_RED, a, RED, 1.6); segs(S1M_BLUE, a, BLUE, 1.6)
a = AX["S1L"]; band(S1L_BAND, a); guides(a, LOG_GUIDES); spikes(S1L_SPIKE_X, S1L_SPIKE_Y, a); segs(S1L_MED, a, ORANGE, 1.3)
# E03 scGBS
a = AX["G1P"]; tints(G1P_TINT, a, .6); guides(a, BAF_TICKS); dots(G1P_DOT_X, G1P_DOT_Y, a, RED, 2.7); segs(G1P_RED, a, RED, 1.7); segs(G1P_BLUE, a, BLUE, 1.7)
a = AX["G1M"]; tints(G1M_TINT, a, .6); guides(a, BAF_TICKS); dots(G1M_DOT_X, G1M_DOT_Y, a, RED, 2.7); segs(G1M_RED, a, RED, 1.7); segs(G1M_BLUE, a, BLUE, 1.7)
a = AX["G1L"]; cloud(G1L_OUT_TOP, G1L_OUT_BOT, G1L_IN_TOP, G1L_IN_BOT, a); guides(a, LOG_GUIDES); segs(G1L_MED, a, ORANGE, 2.2)
# E04 SNP
a = AX["S2P"]; tints(S2P_TINT, a, .9); guides(a, BAF_TICKS); segs(S2P_TOP, a, PURPLE, 2.6); segs(S2P_TOP, a, "#c8591e", 1.2); segs(S2P_BLUE_TOP, a, BLUE, 2)
segs(S2P_BOT, a, RED, 2.4); segs(S2P_BOT, a, PURPLE, .7); dots(S2P_DOTR_X, S2P_DOTR_Y, a, RED, 2.2); dots(S2P_DOTB_X, S2P_DOTB_Y, a, BLUE, 2.2)
a = AX["S2M"]; tints(S2M_TINT + S2M_X_TINT, a, .8); guides(a, BAF_TICKS); columns(S2M_X_COL, a, PURPLE, 1.5); segs(S2M_RED, a, RED, 2.2); segs(S2M_BLUE, a, BLUE, 2.2); segs(S2M_X_PURPLE, a, PURPLE, 2); dots(S2M_DOTR_X, S2M_DOTR_Y, a, RED, 2.2); dots(S2M_DOTB_X, S2M_DOTB_Y, a, BLUE, 2.2)
a = AX["S2L"]; band(S2L_BAND, a); guides(a, LOG_GUIDES); spikes(S2L_SPIKE_X, S2L_SPIKE_Y, a); dots(S2L_FLOOR_X, S2L_FLOOR_Y, a, "#222", 2); segs(S2L_MED, a, ORANGE, 1.3)
# E04 scGBS
a = AX["G2P"]; tints(G2P_TINT, a); guides(a, BAF_TICKS); segs(G2P_B_DASH, a, BLUE, 2, "2px,2px"); segs(G2P_R_DASH, a, RED, 2, "2px,2px"); segs(G2P_RED, a, RED, 1.7); segs(G2P_PURPLE, a, PURPLE, 3.4); dots(G2P_DOT_X, G2P_DOT_Y, a, RED, 2.6)
a = AX["G2M"]; tints(G2M_TINT, a); guides(a, BAF_TICKS); segs(G2M_RED, a, RED, 1.8); segs(G2M_BLUE, a, BLUE, 2.2); dots(G2M_DOT_X, G2M_DOT_Y, a, RED, 2.6)
a = AX["G2L"]; cloud(G2L_OUT_TOP, G2L_OUT_BOT, G2L_IN_TOP, G2L_IN_BOT, a); guides(a, LOG_GUIDES); segs(G2L_MED, a, ORANGE, 2.4)

# Legend panel
a = AX["LEG"]
xs, ys = [], []
for x0, x1 in LEG_SPANS:
    for v in BAF_TICKS:
        xs += [x0, x1, None]
        ys += [v, v, None]
fig.add_trace(go.Scatter(x=xs, y=ys, yaxis=a, mode="lines", line=dict(color="#666", width=.6, dash="1px,1px"), hoverinfo="skip"))
fig.add_trace(go.Scatter(x=[1452, 1452], y=[0, 1], yaxis=a, mode="lines", line=dict(color="#777", width=.7), hoverinfo="skip"))
segs(LEG_RED, a, "#d2324f", 1.7); segs(LEG_BLUE, a, "#2a3cc8", 1.7); segs(LEG_PURPLE, a, PURPLE, 1.6); segs(LEG_PURPLE, a, "#c83060", 1.2, "2px,2px")
leg_pad = 3 / 46.7
layout_axes["yaxis17"] = dict(domain=ydom(813, 865.7), range=[-leg_pad, 1 + leg_pad], anchor="free", position=484 / W, showline=False,
                              ticks="outside", ticklen=2, tickwidth=.6, tickcolor="#777", tickvals=BAF_TICKS, ticktext=BAF_LABELS,
                              tickfont=dict(size=5, color="#555", family=FONT), showgrid=False, zeroline=False,
                              title=dict(text="BAF", font=dict(size=5, color="#444", family=FONT), standoff=4))

# Panel B
HAP_W, GRAY_W = .115, .125
for names, lens, xa, ya in ((LEFT_ROWS, LEFT_LEN, "x2", "y18"), (RIGHT_ROWS, RIGHT_LEN, "x3", "y19")):
    fig.add_trace(go.Bar(y=[i + .422 for i in range(len(names))], x=lens, base=[0] * len(names), orientation="h", width=GRAY_W, xaxis=xa, yaxis=ya,
                         hoverinfo="skip", marker=dict(color="#c9cecc", line=dict(color="#4a4a4a", width=.8))))
    for off, hap in ((0, HAP1), (.166, HAP2)):
        for dark, col in ((0, LIGHT_BAR), (1, DARK_BAR)):
            rows = [(i + off, s, e) for i, n in enumerate(names) for s, e, d in hap[n] if d == dark]
            fig.add_trace(go.Bar(y=[r[0] for r in rows], x=[r[2] - r[1] for r in rows], base=[r[1] for r in rows], orientation="h", width=HAP_W,
                                 xaxis=xa, yaxis=ya, hoverinfo="skip", marker=dict(color=col, line=dict(color="#d3e0f8", width=.5))))
    fig.add_trace(go.Scatter(x=[-31.7 if xa == "x2" else -28] * len(names), y=[i + .235 for i in range(len(names))], xaxis=xa, yaxis=ya,
                             mode="text", text=names, textposition="middle right", hoverinfo="skip", textfont=dict(size=10.8, color="#333", family=FONT)))

R0, PITCH = 926.5, 33.18
b_range = [(1410 - R0) / PITCH, (900 - R0) / PITCH]
MB = 1.775
layout_axes["yaxis18"] = dict(domain=ydom(900, 1410), range=b_range, visible=False, anchor="x2")
layout_axes["yaxis19"] = dict(domain=ydom(900, 1410), range=b_range, visible=False, anchor="x3")

# Green highlight frames
for x0, x1, y0, y1 in ((667, 750, 45, 60.5), (1254, 1315, 45, 60.5), (217, 1965, 424, 439.5)):
    shapes.append(dict(type="rect", xref="x", x0=x0, x1=x1, yref="paper", y0=1 - y1 / H, y1=1 - y0 / H, line=dict(color="#6edb5c", width=1.5), layer="above"))
# Legend frame
shapes.append(dict(type="rect", xref="paper", yref="paper", x0=449.3 / W, x1=718.7 / W, y0=1 - 881 / H, y1=1 - 766 / H, line=dict(color="#999", width=1), layer="below"))

# Texts
txt(297, 11, "E03_Bl001_BRP010", 19)
txt(287, 388, "E04_Bl003_BAC_E4", 19)
txt(1.5, 16, "A", 23, bold=True, color="#111")
txt(1.5, 868, "B", 23, bold=True, color="#111")
txt(11, 34, "SNP array", 16.5)
txt(11, 216, "scGBS", 16.5)
txt(2, 414, "SNP array", 16.5)
txt(2, 595, "scGBS", 16.5)
txt(291, 905, "E04_Bl001_vs_E04_Bl003_BAC_E4", 12.7)
txt(516, 776.7, "Disomy", 12.5, "center")
txt(593, 776.7, "Trisomy", 12.5, "center")
txt(679, 776.7, "Monosomy", 12.5, "center")
txt(510, 852.5, "0.5", 9.5)
txt(589, 824, "0.33", 9.5)
txt(692, 861, "0", 9.5)
for x, y0, y1 in ((504, 844, 856.7), (584, 818, 831), (689.7, 855, 867)):
    annots.append(dict(xref="paper", yref="paper", x=x / W, y=1 - y1 / H, ax=0, ay=-(y1 - y0), text="",
                       showarrow=True, arrowhead=5, arrowside="end+start", arrowsize=.9, arrowwidth=1, arrowcolor="#222", standoff=0, startstandoff=0))

fig.update_layout(
    width=W, height=H, autosize=False, margin=dict(l=0, r=0, t=0, b=0), showlegend=False, barmode="overlay",
    paper_bgcolor="white", plot_bgcolor="rgba(0,0,0,0)", font=dict(family=FONT),
    xaxis=dict(domain=[0, 1], range=[0, W * 3], visible=False),
    xaxis2=dict(domain=[0, 360 / W], range=[-77 / MB, (360 - 77) / MB], visible=False, anchor="y18"),
    xaxis3=dict(domain=[360 / W, 1], range=[(360 - 472.67) / MB, (W - 472.67) / MB], visible=False, anchor="y19"),
    annotations=annots, shapes=shapes, **layout_axes)

fig.write_html("out.html", config={"displayModeBar": False},
               post_script="document.body.style.margin='0';document.body.style.overflow='hidden';")
